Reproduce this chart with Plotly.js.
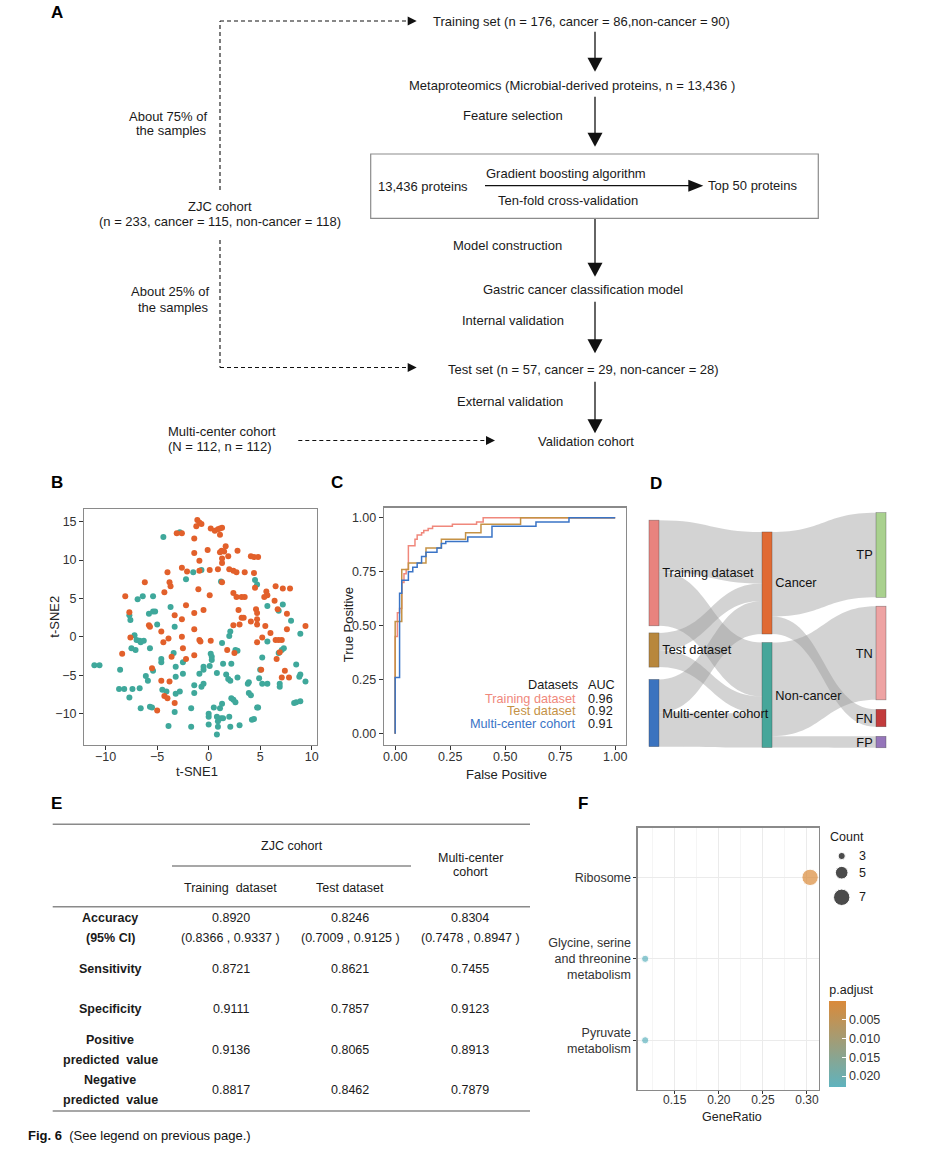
<!DOCTYPE html>
<html><head><meta charset="utf-8">
<script src="https://cdn.plot.ly/plotly-3.0.1.min.js"></script>
<style>html,body{margin:0;padding:0;background:#fff;}#chart{width:929px;height:1169px;}</style>
</head><body><div id="chart"></div>
<script>
// ---------- Panel B: t-SNE of samples ----------
const cancerTSNE1 = [-1.1,-0.9,-0.7,-1.2,0.2,0.6,0.9,1.1,1.3,1.1,-3.1,-2.6,-1.4,-0.1,1.65,1.26,1.5,1.1,1.9,1.3,1.3,2.8,-1.4,-0.9,4.1,4.4,4.8,0.1,0.9,2.0,2.4,2.7,3.5,4.4,-2.6,-2.1,-4.0,-0.9,-6.2,1.3,-3.8,-3.7,-1.0,-8.1,-4.3,0.1,2.4,2.7,3.2,3.5,4.5,5.6,5.7,5.4,6.5,7.2,7.9,6.4,6.7,-7.7,-2.2,-3.3,-2.6,-0.5,-1.4,2.9,3.2,3.4,4.6,4.7,4.7,7.6,9.4,-5.8,-5.7,-4.6,-3.9,-2.6,-1.4,-0.9,-0.8,0.2,2.4,3.0,4.1,4.7,5.5,6.0,5.2,4.7,6.5,6.8,7.1,7.6,6.9,6.6,-8.4,-7.6,-4.4,-2.5,-3.6,-2.2,-1.4,1.8,2.5,-5.5,5.1,7.4,7.1,7.8,-4.6,-3.8,-4.3,-4.0,-3.3,-5.0];
const cancerTSNE2 = [15.2,14.9,14.7,14.4,14.1,13.8,14.0,14.1,14.2,13.3,13.5,13.5,12.8,11.3,11.8,11.2,11.1,11.0,10.5,10.2,9.6,11.2,10.9,9.9,10.5,10.4,10.4,8.7,8.8,8.8,8.6,8.4,8.4,8.3,9.0,8.5,8.4,8.6,7.1,7.1,7.1,6.6,6.2,5.3,5.8,5.4,5.7,5.2,5.2,5.2,6.4,5.9,5.4,5.2,6.6,6.3,6.3,4.7,3.6,3.2,4.1,2.8,2.3,3.5,3.1,3.5,2.5,2.5,3.6,3.1,2.3,3.0,1.4,1.5,1.3,0.7,-0.2,0.0,1.0,-0.4,-0.6,-0.5,1.5,1.6,2.0,1.6,1.4,0.5,-0.1,-0.7,-0.4,-0.4,-0.4,1.0,-2.0,-2.9,-2.2,-0.1,-0.7,-1.5,-2.6,-2.9,-2.4,-1.7,-2.1,-4.1,-4.3,-4.4,-5.3,-5.3,-5.7,-5.8,-7.7,-8.0,-8.6,-9.6];
const nonCancerTSNE1 = [-4.4,-2.8,-2.2,-1.5,-0.7,1.2,4.5,4.7,-6.9,-6.4,-5.4,-7.7,-7.6,-5.8,-5.4,-5.2,-5.0,-3.7,-3.3,-7.2,-7.0,-6.7,-6.6,-6.3,-7.5,-7.1,-5.7,-3.4,-4.6,-4.6,-2.5,-11.1,-10.6,-8.6,-5.4,-6.1,-5.9,-8.7,-8.2,-7.4,-6.7,-7.7,-6.6,-5.7,-5.5,-4.5,-4.1,-3.2,-2.8,-3.2,-3.2,-2.5,-3.3,-3.9,-1.7,-1.7,-1.4,-1.4,-0.9,-0.7,-0.5,-0.5,-0.5,0.1,0.3,0.5,0.0,0.0,0.0,0.8,0.8,0.9,0.9,0.8,1.2,1.4,1.1,1.3,0.2,0.3,1.3,1.4,1.7,1.9,2.1,2.0,2.1,2.2,2.6,2.8,2.0,2.1,3.0,2.2,2.4,2.6,2.8,3.8,3.9,3.9,4.1,4.2,4.4,4.7,4.8,4.9,5.2,5.7,5.2,5.0,5.7,5.7,6.8,7.2,8.0,8.9,6.8,7.1,7.3,8.5,8.8,8.9,9.4,6.9,6.9,8.3,8.5,8.9];
const nonCancerTSNE2 = [13.0,13.6,7.5,8.4,8.7,7.2,7.4,6.8,4.9,5.3,5.3,2.8,2.2,3.0,3.3,3.3,1.6,3.9,1.3,0.2,-0.4,-0.5,-0.7,-0.5,-1.5,-1.7,-1.5,-2.1,-2.9,-3.3,-3.3,-3.7,-3.7,-4.3,-4.4,-5.1,-5.7,-6.8,-6.8,-6.8,-6.7,-7.9,-9.3,-9.1,-9.2,-6.9,-7.1,-7.4,-7.1,-3.9,-5.2,-4.8,-9.8,-11.6,-9.3,-11.7,-6.3,-7.3,-4.8,-6.5,-6.1,-3.9,-4.3,-3.8,-3.0,-9.2,-10.0,-10.4,-11.4,-4.7,-10.4,-11.0,-11.7,-12.7,-10.6,-10.6,-9.3,-8.7,-2.2,-2.6,-0.8,-3.5,-4.9,-5.5,-5.7,0.1,0.7,-3.5,-1.7,-1.8,-10.4,-11.7,-11.5,-8.0,-8.2,-8.5,-5.3,-6.1,-5.9,-7.3,-7.6,-10.8,-10.7,-9.2,-9.2,-5.4,-6.1,-6.1,-2.7,-4.3,-0.6,4.0,3.4,4.2,2.1,0.4,-2.1,-1.7,-1.5,-3.6,-5.2,-4.9,-5.8,-6.1,-6.5,-8.6,-8.5,-8.4];

// ---------- Panel C: ROC curves (step points) ----------
const trainFPR = [0,0,0.01,0.02,0.03,0.04,0.05,0.06,0.09,0.10,0.12,0.13,0.15,0.17,0.26,0.37,0.40,1.0];
const trainTPR = [0,0.45,0.56,0.58,0.70,0.74,0.76,0.87,0.90,0.92,0.93,0.94,0.95,0.96,0.97,0.98,1.00,1.00];
const testFPR = [0,0,0.03,0.06,0.14,0.21,0.32,0.39,0.57,1.0];
const testTPR = [0,0.52,0.76,0.79,0.86,0.90,0.93,0.97,1.00,1.00];
const multiFPR = [0,0,0.02,0.03,0.06,0.08,0.10,0.12,0.14,0.19,0.21,0.23,0.33,0.44,0.64,0.79,1.0];
const multiTPR = [0,0.26,0.65,0.71,0.75,0.77,0.79,0.82,0.84,0.86,0.88,0.89,0.91,0.96,0.98,1.00,1.00];
const rocNames = ['Training dataset','Test dataset','Multi-center cohort'];
const rocAUC = ['0.96','0.92','0.91'];

// ---------- Panel D: alluvial flows (middle and right strata listed first so labels sit on top) ----------
const sankeyLabels = ['Cancer','Non-cancer','TP','TN','FN','FP','Training dataset','Test dataset','Multi-center cohort'];
const flowSource = [6,6,7,7,8,8,0,0,1,1];
const flowTarget = [0,1,0,1,0,1,2,4,3,5];
const flowValue  = [86,90,29,28,55,57,141,29,156,19];

// ---------- Panel E: performance table ----------
const metricLabels = ['Accuracy','Sensitivity','Specificity','Positive predicted value','Negative predicted value'];
const trainingValues = ['0.8920','0.8721','0.9111','0.9136','0.8817'];
const testValues = ['0.8246','0.8621','0.7857','0.8065','0.8462'];
const multiValues = ['0.8304','0.7455','0.9123','0.8913','0.7879'];
const accuracyCI = ['(0.8366 , 0.9337 )','(0.7009 , 0.9125 )','(0.7478 , 0.8947 )'];

// ---------- Panel F: KEGG enrichment ----------
const pathwayLabels = ['Ribosome','Glycine, serine<br>and threonine<br>metabolism','Pyruvate<br>metabolism'];
const geneRatio = [0.3035,0.1165,0.1165];
const geneCount = [7,3,3];
const pAdjust = [0.0001,0.0228,0.0228];
const countLegend = [3,5,7];

// ---------- styling helpers ----------
const FONT = 'Liberation Sans, Arial, Helvetica, sans-serif';
const sizeOf = c => Math.sqrt(52 + (c - 3) * 54);
const ann = [];
const shp = [];
function T(x, y, text, opt) {
  opt = opt || {};
  ann.push({xref:'x4', yref:'y4', x:x, y:y, text:text, showarrow:false, textangle: opt.angle || 0,
    xanchor: opt.xa || 'center', yanchor:'middle', borderpad:0,
    font:{family:FONT, size: opt.size || 13, color: opt.color || '#1a1a1a'}});
}
function L(x0,y0,x1,y1,opt) {
  opt = opt || {};
  shp.push({type:'line', xref:'x4', yref:'y4', x0:x0,y0:y0,x1:x1,y1:y1,
    line:{color: opt.color || '#111', width: opt.width || 1.3, dash: opt.dash || 'solid'}});
}
function tri(path, color) {
  shp.push({type:'path', xref:'x4', yref:'y4', path:path, fillcolor: color || '#111', line:{width:0}});
}
function downArrow(x, y0, tip) {
  L(x, y0, x, tip - 12);
  tri(`M${x},${tip} L${x-7.5},${tip-14} L${x+7.5},${tip-14} Z`);
}
function rightArrowHead(tip, y, len, half) {
  tri(`M${tip},${y} L${tip-len},${y-half} L${tip-len},${y+half} Z`);
}
const DASH = '4px,3px';

// ---------- Panel letters ----------
[['A',57,12],['B',57,482],['C',337,482],['D',656,483],['E',56,803],['F',583,803]].forEach(p =>
  T(p[1], p[2], '<b>' + p[0] + '</b>', {size:17, color:'#000'}));

// ---------- Panel A flowchart ----------
T(581.7, 21.7, 'Training set (n = 176, cancer = 86,non-cancer = 90)');
T(208.3, 116.7, 'About 75% of', {xa:'right'});
T(208.3, 130.7, 'the samples', {xa:'right'});
T(220, 206, 'ZJC cohort');
T(220, 221.7, '(n = 233, cancer = 115, non-cancer = 118)');
T(572, 85, 'Metaproteomics (Microbial-derived proteins, n = 13,436 )');
T(513.3, 115, 'Feature selection');
T(422.5, 186.7, '13,436 proteins');
T(565.7, 173.3, 'Gradient boosting algorithm');
T(568.3, 200, 'Ten-fold cross-validation');
T(752.7, 185.7, 'Top 50 proteins');
T(507.3, 245, 'Model construction');
T(582.7, 289, 'Gastric cancer classification model');
T(512.7, 320.7, 'Internal validation');
T(583.3, 369.3, 'Test set (n = 57, cancer = 29, non-cancer = 28)');
T(210, 291.7, 'About 25% of', {xa:'right'});
T(210, 307.3, 'the samples', {xa:'right'});
T(510, 401, 'External validation');
T(586, 441.7, 'Validation cohort');
T(221.7, 431.7, 'Multi-center cohort');
T(220, 446.7, '(N = 112, n = 112)');

L(220,190,220,21,{dash:DASH,width:1.1}); L(220,21,408,21,{dash:DASH,width:1.1}); rightArrowHead(416.7,21,9,4.5);
L(220,240,220,367.5,{dash:DASH,width:1.1}); L(220,367.5,408,367.5,{dash:DASH,width:1.1}); rightArrowHead(416.7,367.5,9,4.5);
L(298.3,440.5,486,440.5,{dash:DASH,width:1.1}); rightArrowHead(495,440.5,9,4.5);
downArrow(595,31.7,71.7);
downArrow(595,96.7,146.7);
downArrow(595,218.3,276.7);
downArrow(595,301.7,353.3);
downArrow(595,381.7,433.3);
L(485,185.7,690,185.7); rightArrowHead(703.3,185.7,15,6);
shp.push({type:'rect', xref:'x4', yref:'y4', x0:370.7, y0:154, x1:818.3, y1:218.3, line:{color:'#8c8c8c', width:1.2}});

// ---------- Axis titles ----------
T(196.7, 771.7, 't-SNE1', {size:13, color:'#222'});
T(55, 616.7, 't-SNE2', {size:13, color:'#222', angle:-90});
T(506.7, 774, 'False Positive', {size:13, color:'#222'});
T(348.3, 625, 'True Positive', {size:13, color:'#222', angle:-90});
T(731.7, 1116.5, 'GeneRatio', {size:12.5, color:'#222'});

// ---------- Panel C legend text ----------
T(579.3, 685, 'Datasets', {xa:'right', size:12.7});
T(586.7, 685, 'AUC', {xa:'left', size:12.7});
const rocColors = ['#F0887C','#C59245','#3A74C6'];
[698.7, 711.3, 724].forEach((yy, i) => {
  T(576.7, yy, rocNames[i], {xa:'right', size:12.7, color:rocColors[i]});
  T(586.7, yy, rocAUC[i], {xa:'left', size:12.7});
});

// ---------- Panel E table ----------
L(52.7,824.3,530,824.3,{color:'#8a8a8a',width:1.5});
L(172,866,411,866,{color:'#8a8a8a',width:1.5});
L(52.7,906.7,530,906.7,{color:'#8a8a8a',width:1.5});
L(52.7,1111,530,1111,{color:'#8a8a8a',width:1.5});
const colX = [230.7, 350, 470];
const TS = 12.5;
T(291.7, 846, 'ZJC cohort', {size:TS});
T(470, 858.3, 'Multi-center', {size:TS});
T(470, 872.3, 'cohort', {size:TS});
T(colX[0], 887.7, 'Training  dataset', {size:TS});
T(colX[1], 887.7, 'Test dataset', {size:TS});
const rowY = [918.3, 969.3, 1009.3, 1050, 1090];
const labelLines = [['Accuracy','(95% CI)'],['Sensitivity'],['Specificity'],['Positive','predicted  value'],['Negative','predicted  value']];
const labelY = [[918.3,938.3],[969.3],[1009.3],[1040,1060],[1080,1100]];
metricLabels.forEach((m, i) => {
  labelLines[i].forEach((t, j) => T(110, labelY[i][j], '<b>' + t + '</b>', {size:TS}));
  T(colX[0], rowY[i], trainingValues[i], {size:TS});
  T(colX[1], rowY[i], testValues[i], {size:TS});
  T(colX[2], rowY[i], multiValues[i], {size:TS});
});
accuracyCI.forEach((c, j) => T(colX[j], 938.3, c, {size:TS}));
T(26.7, 1135, '<b>Fig. 6</b>  (See legend on previous page.)', {xa:'left', size:13, color:'#111'});

// ---------- Panel F count legend ----------
T(829, 836.7, 'Count', {xa:'left', size:12.5});
const countLegendY = [856, 872.7, 897.3];
countLegend.forEach((c, i) => T(858, countLegendY[i], String(c), {xa:'left', size:12.5}));

// ---------- traces ----------
const axisBase = {ticks:'outside', ticklen:4, tickwidth:1, tickcolor:'#333', showline:true, mirror:true,
  linecolor:'#8a8a8a', linewidth:1.2, showgrid:false, zeroline:false,
  tickfont:{family:FONT, size:12.5, color:'#333'}};
const xTickShift = {ticklabelstandoff:-4};
const traces = [
  {type:'scatter', mode:'markers', x:nonCancerTSNE1, y:nonCancerTSNE2, xaxis:'x', yaxis:'y',
   marker:{size:6, color:'#3FA89B'}, hoverinfo:'skip'},
  {type:'scatter', mode:'markers', x:cancerTSNE1, y:cancerTSNE2, xaxis:'x', yaxis:'y',
   marker:{size:6, color:'#E2602B'}, hoverinfo:'skip'},
  {type:'scatter', mode:'lines', x:trainFPR, y:trainTPR, xaxis:'x2', yaxis:'y2', line:{color:rocColors[0], width:1.5, shape:'hv'}},
  {type:'scatter', mode:'lines', x:testFPR, y:testTPR, xaxis:'x2', yaxis:'y2', line:{color:rocColors[1], width:1.5, shape:'hv'}},
  {type:'scatter', mode:'lines', x:multiFPR, y:multiTPR, xaxis:'x2', yaxis:'y2', line:{color:rocColors[2], width:1.5, shape:'hv'}},
  {type:'sankey', arrangement:'fixed', hoverinfo:'none',
   domain:{x:[0.6986,0.9537], y:[0.3601,0.5629]},
   node:{label:sankeyLabels, pad:10, thickness:10,
     color:['#E06A33','#46A69A','#A9D18E','#EEA3A3','#C23B3C','#9575BA','#E8837E','#B8873C','#3B73BF'],
     x:[0.498,0.498,0.979,0.979,0.979,0.979,0.021,0.021,0.021],
     y:[0.3038,0.7764,0.1857,0.5992,0.8734,0.9747,0.2616,0.5865,0.8523],
     line:{color:'rgba(60,60,60,0.55)', width:0.6}, hoverinfo:'none'},
   link:{source:flowSource, target:flowTarget, value:flowValue, color:'rgba(150,150,150,0.42)', hoverinfo:'none'},
   textfont:{family:FONT, size:12.8, color:'#111', shadow:'none'}},
  {type:'scatter', mode:'markers', x:geneRatio, y:pathwayLabels, xaxis:'x3', yaxis:'y3', hoverinfo:'skip',
   marker:{size:geneCount.map(sizeOf), color:pAdjust.map(p => -p),
     colorscale:[[0,'#5FB3BE'],[1,'#DA8A3A']], showscale:true,
     colorbar:{x:0.8927, xanchor:'left', y:0.0704, yanchor:'bottom', len:0.0895, lenmode:'fraction',
       thickness:17, xpad:0, ypad:0, outlinewidth:0, ticks:'inside', ticklen:4, tickcolor:'#fff',
       tickvals:[-0.005,-0.010,-0.015,-0.020], ticktext:['0.005','0.010','0.015','0.020'],
       tickfont:{family:FONT, size:12.5, color:'#333'},
       title:{text:'p.adjust', side:'top', font:{family:FONT, size:12.5, color:'#1a1a1a'}}}}},
  {type:'scatter', mode:'markers', x:countLegend.map(() => 841.7), y:countLegendY, xaxis:'x4', yaxis:'y4',
   hoverinfo:'skip', marker:{size:countLegend.map(sizeOf), color:'#000'}}
];

const layout = {
  width:929, height:1169, margin:{l:0,r:0,t:0,b:0}, showlegend:false,
  paper_bgcolor:'#fff', plot_bgcolor:'rgba(0,0,0,0)', hovermode:false,
  font:{family:FONT, color:'#1a1a1a'},
  xaxis:Object.assign({}, axisBase, xTickShift, {domain:[0.0907,0.3409], range:[-12.08,10.49], tickvals:[-10,-5,0,5,10], anchor:'y'}),
  yaxis:Object.assign({}, axisBase, {domain:[0.3627,0.5643], range:[-14.08,16.6], tickvals:[-10,-5,0,5,10,15], anchor:'x'}),
  xaxis2:Object.assign({}, axisBase, xTickShift, {domain:[0.4133,0.6738], range:[-0.051,1.049], tickvals:[0,0.25,0.5,0.75,1], tickformat:'.2f', anchor:'y2'}),
  yaxis2:Object.assign({}, axisBase, {domain:[0.3627,0.5657], range:[-0.052,1.046], tickvals:[0,0.25,0.5,0.75,1], tickformat:'.2f', anchor:'x2'}),
  xaxis3:Object.assign({}, axisBase, {ticklabelstandoff:-5, domain:[0.6864,0.8813], range:[0.108,0.3133], tickvals:[0.15,0.20,0.25,0.30], tickformat:'.2f', anchor:'y3',
    tickfont:{family:FONT, size:12, color:'#333'}, ticklen:3,
    showgrid:true, gridcolor:'#EBEBEB', gridwidth:1,
    minor:{showgrid:true, gridcolor:'#F3F3F3', gridwidth:0.8, tickvals:[0.125,0.175,0.225,0.275]}}),
  yaxis3:Object.assign({}, axisBase, {domain:[0.0676,0.2920], type:'category', anchor:'x3',
    categoryorder:'array', categoryarray:pathwayLabels.slice().reverse(), range:[-0.61,2.61],
    showgrid:true, gridcolor:'#EBEBEB', ticklen:3}),
  xaxis4:{domain:[0,1], range:[0,929], visible:false, fixedrange:true, anchor:'y4'},
  yaxis4:{domain:[0,1], range:[1169,0], visible:false, fixedrange:true, anchor:'x4'},
  annotations:ann, shapes:shp
};
Plotly.newPlot('chart', traces, layout, {staticPlot:true, displayModeBar:false});
</script></body></html>
